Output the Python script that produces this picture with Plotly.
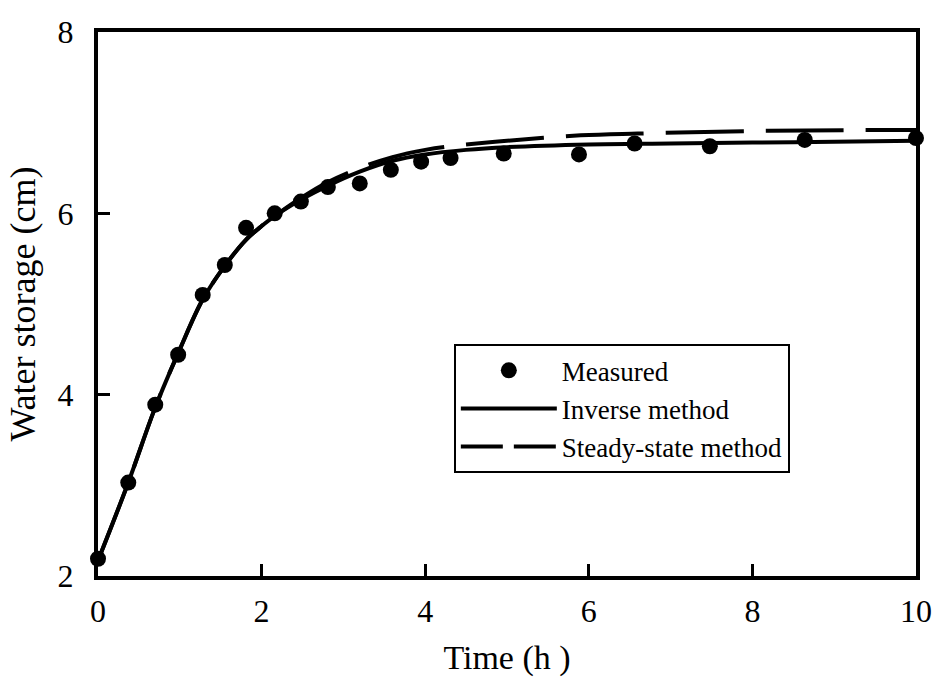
import plotly.graph_objects as go

# Measured data
time_meas = [0, 0.37, 0.70, 0.98, 1.28, 1.55, 1.81, 2.16, 2.48, 2.81, 3.20, 3.58, 3.95, 4.31, 4.96, 5.88, 6.56, 7.48, 8.64, 10.0]
ws_meas = [2.19, 3.03, 3.89, 4.44, 5.10, 5.43, 5.84, 6.00, 6.13, 6.29, 6.33, 6.48, 6.57, 6.61, 6.66, 6.65, 6.77, 6.74, 6.81, 6.83]

# Inverse method curve
time_inv = [0, 0.37, 0.70, 1.00, 1.28, 1.55, 1.80, 2.00, 2.16, 2.50, 2.80, 3.20, 3.60, 4.00, 4.50, 5.00, 6.00, 7.00, 8.00, 9.00, 10.0]
ws_inv = [2.17, 3.03, 3.86, 4.50, 5.05, 5.42, 5.70, 5.86, 5.97, 6.16, 6.30, 6.46, 6.58, 6.65, 6.70, 6.73, 6.76, 6.77, 6.78, 6.79, 6.80]

# Steady-state method curve
time_ss = [0, 0.37, 0.70, 1.00, 1.28, 1.55, 1.80, 2.00, 2.16, 2.50, 2.80, 3.20, 3.60, 4.00, 4.30, 5.00, 5.90, 6.60, 8.20, 10.0]
ws_ss = [2.17, 3.03, 3.86, 4.50, 5.05, 5.42, 5.70, 5.86, 5.97, 6.18, 6.34, 6.50, 6.62, 6.70, 6.74, 6.80, 6.86, 6.88, 6.91, 6.92]

x_ticks = [0, 2, 4, 6, 8, 10]
y_ticks = [2, 4, 6, 8]

FONT = "Liberation Serif, serif"

fig = go.Figure()
fig.add_trace(go.Scatter(
    x=time_meas, y=ws_meas, mode="markers", name="Measured",
    marker=dict(color="black", size=16, symbol="circle"),
    cliponaxis=False,
))
fig.add_trace(go.Scatter(
    x=time_inv, y=ws_inv, mode="lines", name="Inverse method",
    line=dict(color="black", width=4, shape="spline"),
))
fig.add_trace(go.Scatter(
    x=time_ss, y=ws_ss, mode="lines", name="Steady-state method",
    line=dict(color="black", width=4, shape="spline", dash="78px,22px"),
    showlegend=False, legendgroup="ss",
))
# legend entry for the dashed curve with a shorter dash so it reads as "— —"
fig.add_trace(go.Scatter(
    x=[None], y=[None], mode="lines", name="Steady-state method",
    line=dict(color="black", width=4, dash="42px,11px"),
    legendgroup="ss", hoverinfo="skip",
))

axis_common = dict(
    showgrid=False, zeroline=False,
    showline=True, linecolor="black", linewidth=4, mirror=True,
    ticks="inside", ticklen=12, tickwidth=3, tickcolor="black",
    tickfont=dict(family=FONT, size=32, color="black"),
)

fig.update_xaxes(
    range=[0, 10], tickvals=x_ticks, ticktext=[str(v) for v in x_ticks],
    ticklabelstandoff=4,
    title=dict(text="Time (h )", font=dict(family=FONT, size=34, color="black"), standoff=18),
    **axis_common,
)
fig.update_yaxes(
    range=[2, 8], tickvals=y_ticks, ticktext=[str(v) for v in y_ticks],
    ticklabelstandoff=14,
    title=dict(text="Water storage (cm)", font=dict(family=FONT, size=36, color="black"), standoff=12),
    **axis_common,
)

fig.update_layout(
    width=944, height=683,
    margin=dict(l=98, r=26, t=32, b=106),
    paper_bgcolor="white", plot_bgcolor="white",
    font=dict(family=FONT, color="black"),
    legend=dict(
        x=0.435, y=0.426, xanchor="left", yanchor="top",
        bgcolor="white", bordercolor="black", borderwidth=2,
        font=dict(family=FONT, size=27, color="black"),
        itemwidth=96, tracegroupgap=0,
    ),
)

fig.write_html("out.html")
